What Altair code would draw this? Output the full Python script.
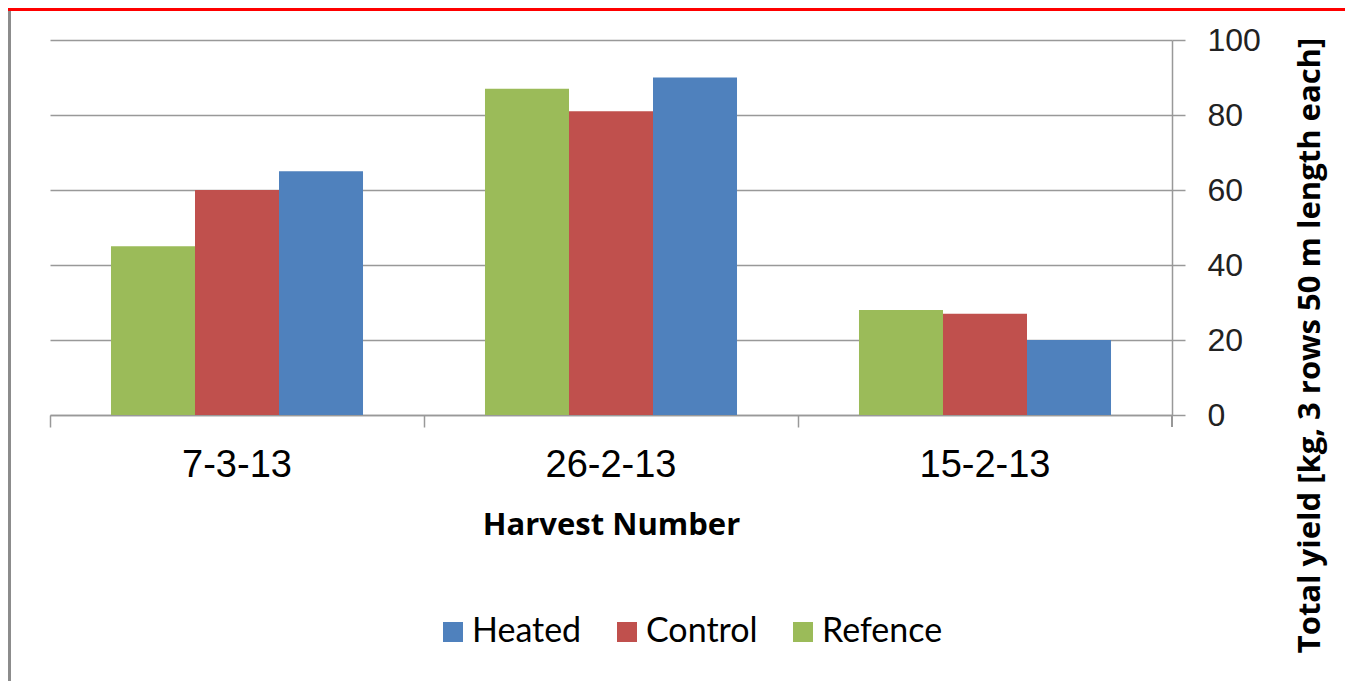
import altair as alt
import pandas as pd

dates = ["7-3-13", "26-2-13", "15-2-13"]
refence = [45, 87, 28]
control = [60, 81, 27]
heated = [65, 90, 20]

series_order = ["Refence", "Control", "Heated"]
legend_order = ["Heated", "Control", "Refence"]
colors = ["#4F81BD", "#C0504D", "#9BBB59"]

rows = []
for i, d in enumerate(dates):
    rows.append({"date": d, "series": "Refence", "value": refence[i]})
    rows.append({"date": d, "series": "Control", "value": control[i]})
    rows.append({"date": d, "series": "Heated", "value": heated[i]})
df = pd.DataFrame(rows)

W, H = 1122, 375

bars = alt.Chart(df).mark_bar().encode(
    x=alt.X("date:N", sort=dates,
            scale=alt.Scale(paddingInner=0, paddingOuter=0),
            axis=alt.Axis(title="Harvest Number", bandPosition=0, labelAngle=0,
                          labelFont="Liberation Sans", labelFontSize=38, labelColor="#000",
                          labelPadding=19, tickSize=12, tickColor="#999", tickWidth=1.5,
                          domainColor="#999", domainWidth=1.5,
                          titleFont="Open Sans", titleFontSize=31, titleFontWeight="bold",
                          titleColor="#000", titlePadding=26, grid=False)),
    xOffset=alt.XOffset("series:N", sort=series_order,
                        scale=alt.Scale(paddingInner=0, paddingOuter=0.726)),
    y=alt.Y("value:Q", scale=alt.Scale(domain=[0, 100], nice=False),
            axis=alt.Axis(orient="right", values=[0, 20, 40, 60, 80, 100],
                          title="Total yield [kg, 3 rows 50 m length each]",
                          titleAngle=270, titleFont="Open Sans", titleFontSize=31,
                          titleFontWeight="bold", titleColor="#000",
                          titleX=138, titleY=305, titleAlign="center", titleBaseline="middle",
                          labelFont="Liberation Sans", labelFontSize=32, labelColor="#222",
                          labelPadding=22, tickSize=13, tickColor="#999", tickWidth=1.5,
                          domainColor="#999", domainWidth=1.5,
                          grid=True, gridColor="#999", gridWidth=1.5)),
    color=alt.Color("series:N",
                    scale=alt.Scale(domain=legend_order, range=colors),
                    legend=alt.Legend(title=None, orient="none", direction="horizontal",
                                      legendX=386, legendY=575,
                                      symbolType="square", symbolSize=400,
                                      symbolStrokeWidth=0, labelFont="Lato",
                                      labelFontSize=34, labelColor="#000",
                                      columnPadding=28, labelOffset=2)),
)

last_tick = alt.Chart(df).mark_rule(color="#999", strokeWidth=1.5).encode(
    x=alt.value(W), y=alt.value(H), y2=alt.value(H + 12))

left_bar = alt.Chart(df).mark_rule(color="#8c8c8c", strokeWidth=3).encode(
    x=alt.value(-40.5), y=alt.value(-30), y2=alt.value(700))

top_bar = alt.Chart(df).mark_rule(color="#ff0000", strokeWidth=3).encode(
    x=alt.value(-42), x2=alt.value(W + 180), y=alt.value(-31))

chart = alt.layer(bars, last_tick, left_bar, top_bar).properties(
    width=W, height=H,
    autosize=alt.AutoSizeParams(type="none"),
    padding={"left": 42, "top": 32, "right": 173, "bottom": 266},
).configure_view(stroke=None)

chart.save("out.html", embed_options={"renderer": "svg", "actions": False})
